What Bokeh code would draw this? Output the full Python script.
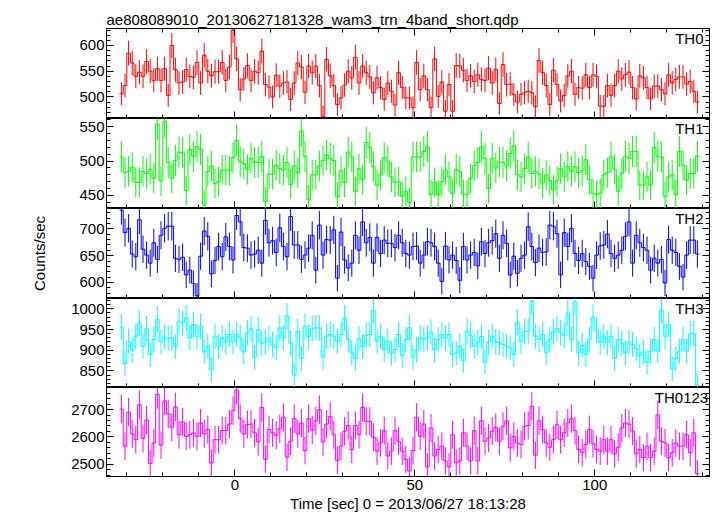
import numpy as np
from bokeh.plotting import figure
from bokeh.layouts import column
from bokeh.models import Range1d, LinearAxis, SingleIntervalTicker, Label
from bokeh.embed import file_html
from bokeh.resources import INLINE

FONT = "Liberation Sans"
title_text = "ae808089010_20130627181328_wam3_trn_4band_short.qdp"
x_label = "Time [sec] 0 = 2013/06/27 18:13:28"
y_label = "Counts/sec"

t_start = -32.0
bin_width = 1.0

th0 = [506, 522, 585, 566, 540, 548, 540, 569, 550, 532,
       555, 532, 555, 503, 600, 553, 527, 529, 553, 540,
       538, 567, 527, 581, 550, 541, 549, 549, 567, 532,
       558, 630, 574, 514, 535, 561, 532, 550, 547, 589,
       524, 519, 500, 542, 521, 527, 529, 495, 527, 566,
       558, 509, 560, 547, 560, 522, 462, 573, 541, 522,
       485, 498, 523, 550, 537, 577,
       527, 560, 547, 539, 508, 537, 518, 495, 527, 511,
       484, 547, 518, 498, 498, 479, 567, 514, 541, 514,
       479, 574, 501, 529, 472, 524, 472, 561, 560, 552,
       532, 541, 530, 543, 534, 532, 556, 527, 553, 487,
       563, 524, 525, 505, 490, 505, 508, 511, 508, 481,
       571, 547, 522, 485, 552, 524, 492, 503, 541, 550,
       505, 518, 517, 543, 518, 543, 540, 482, 482, 522,
       503, 522, 550, 535, 543, 548, 518, 496, 541, 537,
       518, 496, 521, 521, 514, 506, 543, 527, 534, 539,
       539, 525, 530, 511, 490]

th1 = [506, 483, 485, 491, 469, 469, 485, 482, 488, 475,
       554, 471, 558, 498, 475, 501, 513, 512, 457, 517,
       507, 521, 517, 436, 485, 493, 467, 470, 487, 487,
       486, 505, 530, 499, 496, 488, 504, 498, 498, 507,
       441, 481, 481, 494, 489, 487, 498, 466, 493, 483,
       544, 507, 444, 480, 480, 493, 501, 509, 504, 501,
       448, 486, 469, 513, 506, 456,
       489, 473, 527, 520, 492, 465, 480, 505, 500, 477,
       469, 470, 449, 456, 440, 506, 506, 506, 514, 521,
       451, 469, 451, 470, 487, 477, 453, 488, 485, 452,
       451, 475, 493, 498, 521, 504, 460, 504, 490, 499,
       498, 493, 511, 522, 480, 477, 489, 506, 482, 485,
       481, 468, 480, 472, 458, 471, 489, 477, 492, 485,
       492, 483, 486, 502, 473, 453, 451, 453, 480, 483,
       506, 488, 456, 482, 507, 504, 514, 514, 465, 465,
       477, 465, 520, 507, 506, 448, 477, 480, 451, 514,
       494, 472, 482, 482, 507]

th2 = [735, 693, 701, 653, 648, 717, 662, 651, 636, 674,
       643, 688, 701, 705, 705, 645, 643, 647, 614, 623,
       598, 575, 649, 696, 686, 616, 641, 667, 648, 685,
       667, 642, 725, 713, 665, 664, 651, 653, 660, 636,
       716, 674, 678, 656, 702, 667, 648, 723, 670, 670,
       643, 651, 664, 688, 623, 707, 651, 680, 679, 698,
       608, 694, 642, 627, 636, 688,
       660, 713, 674, 684, 636, 684, 654, 679, 673, 673,
       665, 688, 674, 654, 651, 667, 668, 636, 651, 676,
       674, 667, 636, 602, 668, 642, 651, 641, 604, 667,
       642, 651, 656, 631, 676, 654, 674, 678, 691, 645,
       688, 673, 614, 649, 617, 645, 651, 704, 667, 637,
       664, 656, 657, 707, 705, 691, 614, 693, 667, 701,
       654, 641, 654, 639, 630, 608, 651, 668, 670, 690,
       654, 645, 651, 660, 686, 713, 636, 688, 674, 665,
       660, 623, 645, 636, 643, 599, 680, 660, 656, 630,
       610, 651, 679, 679, 653]

th3 = [956, 868, 922, 901, 934, 966, 909, 952, 890, 926,
       975, 920, 932, 929, 930, 909, 970, 966, 978, 930,
       962, 933, 958, 896, 910, 853, 934, 909, 930, 920,
       938, 920, 938, 930, 896, 942, 952, 883, 950, 917,
       920, 930, 914, 906, 954, 930, 983, 917, 840, 946,
       880, 958, 933, 952, 954, 954, 883, 934, 938, 934,
       922, 938, 978, 926, 894, 880,
       928, 909, 936, 938, 996, 922, 933, 902, 922, 893,
       902, 938, 887, 926, 954, 883, 901, 930, 926, 930,
       944, 901, 926, 938, 930, 938, 890, 893, 910, 875,
       946, 936, 910, 918, 933, 871, 920, 934, 920, 918,
       914, 910, 906, 890, 967, 922, 946, 946, 1019, 934,
       926, 938, 894, 926, 944, 952, 942, 936, 990, 926,
       1017, 893, 912, 890, 926, 980, 948, 920, 934, 918,
       934, 880, 926, 917, 894, 920, 914, 904, 887, 896,
       871, 898, 926, 898, 996, 934, 962, 855, 880, 898,
       926, 898, 940, 940, 815]

th0123 = [2702, 2566, 2691, 2611, 2590, 2718, 2594, 2662, 2502, 2578,
          2756, 2570, 2732, 2684, 2635, 2710, 2608, 2655, 2602, 2608,
          2615, 2602, 2651, 2611, 2627, 2504, 2590, 2590, 2623, 2623,
          2647, 2696, 2772, 2667, 2611, 2645, 2647, 2615, 2582, 2708,
          2518, 2627, 2615, 2606, 2630, 2672, 2526, 2584, 2667, 2611,
          2651, 2550, 2667, 2625, 2659, 2700, 2582, 2647, 2675, 2608,
          2514, 2566, 2621, 2642, 2554, 2642,
          2608, 2708, 2657, 2657, 2599, 2548, 2578, 2623, 2530, 2548,
          2623, 2584, 2548, 2518, 2475, 2550, 2672, 2602, 2647, 2490,
          2633, 2530, 2554, 2566, 2512, 2490, 2608, 2505, 2512, 2615,
          2566, 2512, 2623, 2512, 2659, 2584, 2596, 2621, 2635, 2584,
          2639, 2659, 2560, 2602, 2578, 2572, 2639, 2642, 2712, 2533,
          2659, 2627, 2578, 2562, 2590, 2645, 2590, 2615, 2651, 2667,
          2623, 2554, 2542, 2572, 2627, 2575, 2554, 2548, 2590, 2548,
          2590, 2538, 2562, 2633, 2651, 2647, 2621, 2538, 2554, 2524,
          2566, 2524, 2548, 2681, 2584, 2578, 2524, 2542, 2578, 2566,
          2566, 2608, 2542, 2615, 2465]

band_names = ["TH0", "TH1", "TH2", "TH3", "TH0123"]
band_values = [th0, th1, th2, th3, th0123]
band_colors = ["#ff0000", "#00ff00", "#0000ff", "#00ffff", "#ff00ff"]
y_limits = [(458, 633), (431, 562), (570, 738), (810, 1025), (2455, 2781)]
y_tick_step = [50, 50, 50, 50, 100]
x_limits = (-35.64, 131.86)
x_tick_step = 50

# layout (pixels)
W = 715
LEFT = 106
RIGHT = 6
TITLE_H = 28
FRAME_H = [90, 90, 90, 89, 89]
BOTTOM = 39

x_range = Range1d(*x_limits)


def style_axis(ax, ticker, show_labels):
    ax.ticker = ticker
    ax.axis_line_color = "black"
    ax.axis_line_width = 1
    ax.major_tick_line_color = "black"
    ax.minor_tick_line_color = "black"
    ax.major_tick_in = 7
    ax.major_tick_out = 0
    ax.minor_tick_in = 4
    ax.minor_tick_out = 0
    if show_labels:
        ax.major_label_text_font = FONT
        ax.major_label_text_font_size = "15px"
        ax.major_label_text_color = "black"
        ax.major_label_standoff = 2
    else:
        ax.major_label_text_font_size = "0px"
        ax.major_label_text_color = None
        ax.major_label_standoff = 0


figs = []

tf = figure(width=W, height=TITLE_H, x_range=x_range, y_range=Range1d(0, 1),
            x_axis_type=None, y_axis_type=None, toolbar_location=None,
            output_backend="svg", min_border_left=LEFT, min_border_right=RIGHT,
            min_border_top=0, min_border_bottom=0)
tf.outline_line_color = None
tf.background_fill_color = "white"
tf.border_fill_color = "white"
tf.add_layout(Label(x=x_limits[0], y=0.32, text=title_text, text_font=FONT,
                    text_font_size="15px", text_align="left",
                    text_baseline="alphabetic", text_color="black"))
figs.append(tf)

n = len(th0)
edges = t_start + bin_width * np.arange(n + 1)
centers = edges[:-1] + bin_width / 2.0

for i, (name, vals, color, (lo, hi), ystep) in enumerate(
        zip(band_names, band_values, band_colors, y_limits, y_tick_step)):
    last = (i == len(band_names) - 1)
    fh = FRAME_H[i]
    p = figure(width=W, height=fh + (BOTTOM if last else 0),
               x_range=x_range, y_range=Range1d(lo, hi),
               x_axis_type=None, y_axis_type=None, toolbar_location=None,
               output_backend="svg", min_border_left=LEFT,
               min_border_right=RIGHT, min_border_top=0,
               min_border_bottom=(BOTTOM if last else 0))
    p.outline_line_color = "black"
    p.outline_line_width = 1
    p.background_fill_color = "white"
    p.border_fill_color = "white"

    v = np.asarray(vals, dtype=float)
    err = np.sqrt(v * bin_width) / bin_width
    xs = np.repeat(edges, 2)[1:-1]
    ys = np.repeat(v, 2)
    p.segment(x0=centers, y0=v - err, x1=centers, y1=v + err,
              line_color=color, line_width=1)
    p.line(xs, ys, line_color=color, line_width=1)

    yt = SingleIntervalTicker(interval=ystep, num_minor_ticks=5)
    xt = SingleIntervalTicker(interval=x_tick_step, num_minor_ticks=5)

    left = LinearAxis()
    style_axis(left, yt, True)
    right = LinearAxis()
    style_axis(right, yt, False)
    bottom = LinearAxis()
    style_axis(bottom, xt, last)
    if last:
        bottom.major_label_standoff = 3
        bottom.axis_label = x_label
        bottom.axis_label_text_font = FONT
        bottom.axis_label_text_font_size = "15px"
        bottom.axis_label_text_font_style = "normal"
        bottom.axis_label_text_color = "black"
        bottom.axis_label_standoff = 2
    if i == 2:
        left.axis_label = y_label
        left.axis_label_text_font = FONT
        left.axis_label_text_font_size = "15px"
        left.axis_label_text_font_style = "normal"
        left.axis_label_text_color = "black"
        left.axis_label_standoff = 28
    p.add_layout(left, "left")
    p.add_layout(right, "right")
    p.add_layout(bottom, "below")
    if i == 0:
        top = LinearAxis()
        style_axis(top, xt, False)
        p.add_layout(top, "above")

    lx = 130.2 if name != "TH0123" else 131.5
    ly = hi - 1.5 * (hi - lo) / fh
    p.add_layout(Label(x=lx, y=ly, text=name, text_font=FONT,
                       text_font_size="15px", text_align="right",
                       text_baseline="top", text_color="black"))
    figs.append(p)

layout = column(*figs, spacing=0)
open("out.html", "w").write(file_html(layout, INLINE))
